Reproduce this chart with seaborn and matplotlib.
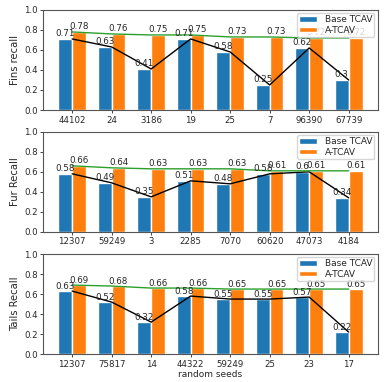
import matplotlib
matplotlib.use('Agg')
import matplotlib.pyplot as plt
import seaborn as sns
import pandas as pd

# Fins
fins_seeds = ['44102', '24', '3186', '19', '25', '7', '96390', '67739']
fins_base = [0.71, 0.63, 0.41, 0.71, 0.58, 0.25, 0.62, 0.3]
fins_atcav = [0.78, 0.76, 0.75, 0.75, 0.73, 0.73, 0.72, 0.72]

# Fur
fur_seeds = ['12307', '59249', '3', '2285', '7070', '60620', '47073', '4184']
fur_base = [0.58, 0.49, 0.35, 0.51, 0.48, 0.58, 0.6, 0.34]
fur_atcav = [0.66, 0.64, 0.63, 0.63, 0.63, 0.61, 0.61, 0.61]

# Tails
tails_seeds = ['12307', '75817', '14', '44322', '59249', '25', '23', '17']
tails_base = [0.63, 0.52, 0.32, 0.58, 0.55, 0.55, 0.57, 0.22]
tails_atcav = [0.69, 0.68, 0.66, 0.66, 0.65, 0.65, 0.65, 0.65]

panels = [
    ('Fins recall', fins_seeds, fins_base, fins_atcav),
    ('Fur Recall', fur_seeds, fur_base, fur_atcav),
    ('Tails Recall', tails_seeds, tails_base, tails_atcav),
]

sns.set_style('ticks')
plt.rcParams['font.family'] = ['DejaVu Sans']

fig = plt.figure(figsize=(3.9, 3.82), dpi=100)
bottoms = [0.712, 0.393, 0.073]
colors = ['#1f77b4', '#ff7f0e']

for (ylabel, seeds, base, atcav), bottom in zip(panels, bottoms):
    ax = fig.add_axes([0.111, bottom, 0.857, 0.262])
    df = pd.DataFrame({
        'seed': seeds * 2,
        'recall': base + atcav,
        'method': ['Base TCAV'] * len(seeds) + ['A-TCAV'] * len(seeds),
    })
    sns.barplot(data=df, x='seed', y='recall', hue='method', order=seeds,
                palette=colors, saturation=1, width=0.7, ax=ax)

    xs = list(range(len(seeds)))
    ax.plot(xs, base, color='black', lw=1)
    ax.plot(xs, atcav, color='#2ca02c', lw=1)

    for i, (b, a) in enumerate(zip(base, atcav)):
        ax.text(i - 0.175, b + 0.005, str(b), ha='center', va='bottom', fontsize=6.3)
        ax.text(i + 0.175, a + 0.005, str(a), ha='center', va='bottom', fontsize=6.3)

    ax.set_ylim(0, 1.0)
    ax.set_yticks([0.0, 0.2, 0.4, 0.6, 0.8, 1.0])
    ax.set_xlim(-0.73, 7.73)
    ax.set_ylabel(ylabel, fontsize=7.2, labelpad=3)
    ax.set_xlabel('')
    ax.tick_params(axis='both', labelsize=6.2, length=2.5, width=0.6, pad=1.5)
    for sp in ax.spines.values():
        sp.set_color('#555555')
        sp.set_linewidth(0.8)

    handles, labels = ax.get_legend_handles_labels()
    ax.legend(handles, labels, loc='upper right', fontsize=6.5, frameon=True,
              handlelength=2.0, handleheight=0.6, borderpad=0.25,
              labelspacing=0.15, borderaxespad=0.35)

ax.set_xlabel('random seeds', fontsize=6.5, labelpad=1)

fig.savefig('out.png', dpi=100)
